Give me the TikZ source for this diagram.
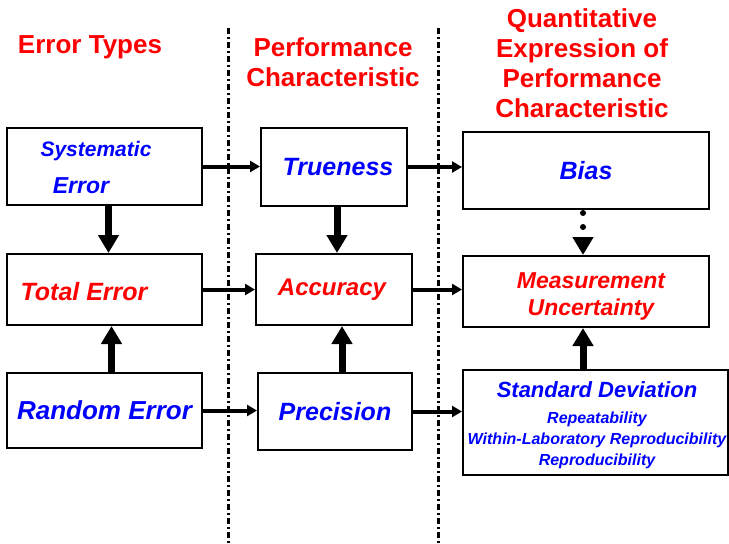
\documentclass[tikz,border=0pt]{standalone}
\usepackage{fontspec}
\setmainfont{Liberation Sans}
\usetikzlibrary{arrows.meta}
\tikzset{>=stealth}
\colorlet{background}{white}
\colorlet{penColor}{blue}
\colorlet{penColor2}{red}
\newcommand{\sdbig}{\fontsize{22}{26}\selectfont}
\newcommand{\sdsmall}{\fontsize{16}{21}\selectfont}
\tikzset{
  box/.style={draw, line width=2pt, inner sep=0pt},
  lbl/.style={font=\fontsize{#1}{#1}\selectfont\bfseries\itshape},
  head/.style={penColor2, align=center, font=\fontsize{26}{30}\selectfont\bfseries},
  flow/.style={line width=4pt, -{Triangle[width=11pt,length=10pt]}},
  bigflow/.style={line width=7pt, -{Triangle[width=20pt,length=18pt]}},
  divider/.style={line width=3pt, dash pattern=on 6pt off 3pt on 2pt off 3pt},
}

\begin{document}
\begin{tikzpicture}[x=1pt,y=-1pt]
\useasboundingbox[fill=background] (0,0) rectangle (729,544);
% column dividers
\draw[divider] (228,28) -- (228,544);
\draw[divider] (438,28) -- (438,544);
% headings
\node[head] (hdA) at (90,47) {Error Types};
\node[head] (hdB) at (333,62) {Performance\\Characteristic};
\node[head] (hdC) at (582,63) {Quantitative\\Expression of\\Performance\\Characteristic};
% error types
\node[box, minimum width=195pt, minimum height=77pt] (sys) at (104.5,166.5) {};
\node[lbl=21, text=penColor] (sysA) at (96,151) {Systematic};
\node[lbl=23, text=penColor] (sysB) at (81,186) {Error};
\node[box, minimum width=195pt, minimum height=71pt] (tot) at (104.5,289.5) {};
\node[lbl=25, text=penColor2] (totA) at (84,292) {Total Error};
\node[box, lbl=26, text=penColor, minimum width=195pt, minimum height=75pt] (rnd) at (104.5,410.5) {Random Error};
% performance characteristic
\node[box, minimum width=146pt, minimum height=78pt] (tru) at (334,167) {};
\node[lbl=25, text=penColor] (truA) at (338,167) {Trueness};
\node[box, minimum width=156pt, minimum height=71pt] (acc) at (334,289.5) {};
\node[lbl=24, text=penColor2] (accA) at (332,290) {Accuracy};
\node[box, lbl=25, text=penColor, minimum width=154pt, minimum height=77pt] (pre) at (335,411.5) {Precision};
% quantitative expression
\node[box, lbl=25, text=penColor, minimum width=246pt, minimum height=77pt] (bias) at (586,170.5) {Bias};
\node[box, minimum width=246pt, minimum height=71pt] (mu) at (586,291.5) {};
\node[lbl=23, text=penColor2, align=center] (muA) at (591,296) {Measurement\\[4pt]Uncertainty};
\node[box, minimum width=265pt, minimum height=105pt] (sd) at (595.5,422.5) {};
\node[text=penColor, align=center, font=\sdsmall\bfseries\itshape] (sdA) at (597,425)
  {{\sdbig Standard Deviation}\\[5pt]
   Repeatability\\Within-Laboratory Reproducibility\\Reproducibility};
% horizontal arrows
\draw[flow] (sys.east) -- (sys.east -| tru.west);
\draw[flow] (tru.east) -- (tru.east -| bias.west);
\draw[flow] (tot.east) -- (tot.east -| acc.west);
\draw[flow] (acc.east) -- (acc.east -| mu.west);
\draw[flow] (rnd.east) -- (rnd.east -| pre.west);
\draw[flow] (pre.east) -- (pre.east -| sd.west);
% vertical arrows
\draw[bigflow] ([xshift=4]sys.south) -- ([xshift=4]sys.south |- tot.north);
\draw[bigflow] ([xshift=7]rnd.north) -- ([xshift=7]rnd.north |- tot.south);
\draw[bigflow] ([xshift=3]tru.south) -- ([xshift=3]tru.south |- acc.north);
\draw[bigflow] ([xshift=7]pre.north) -- ([xshift=7]pre.north |- acc.south);
\draw[bigflow, line width=6pt, line cap=round, dash pattern=on 0pt off 14pt] ([xshift=-3,yshift=-3]bias.south) -- ([xshift=-3]bias.south |- mu.north);
\draw[bigflow] ([xshift=-3]mu.south |- sd.north) -- ([xshift=-3]mu.south);
\end{tikzpicture}
\end{document}
